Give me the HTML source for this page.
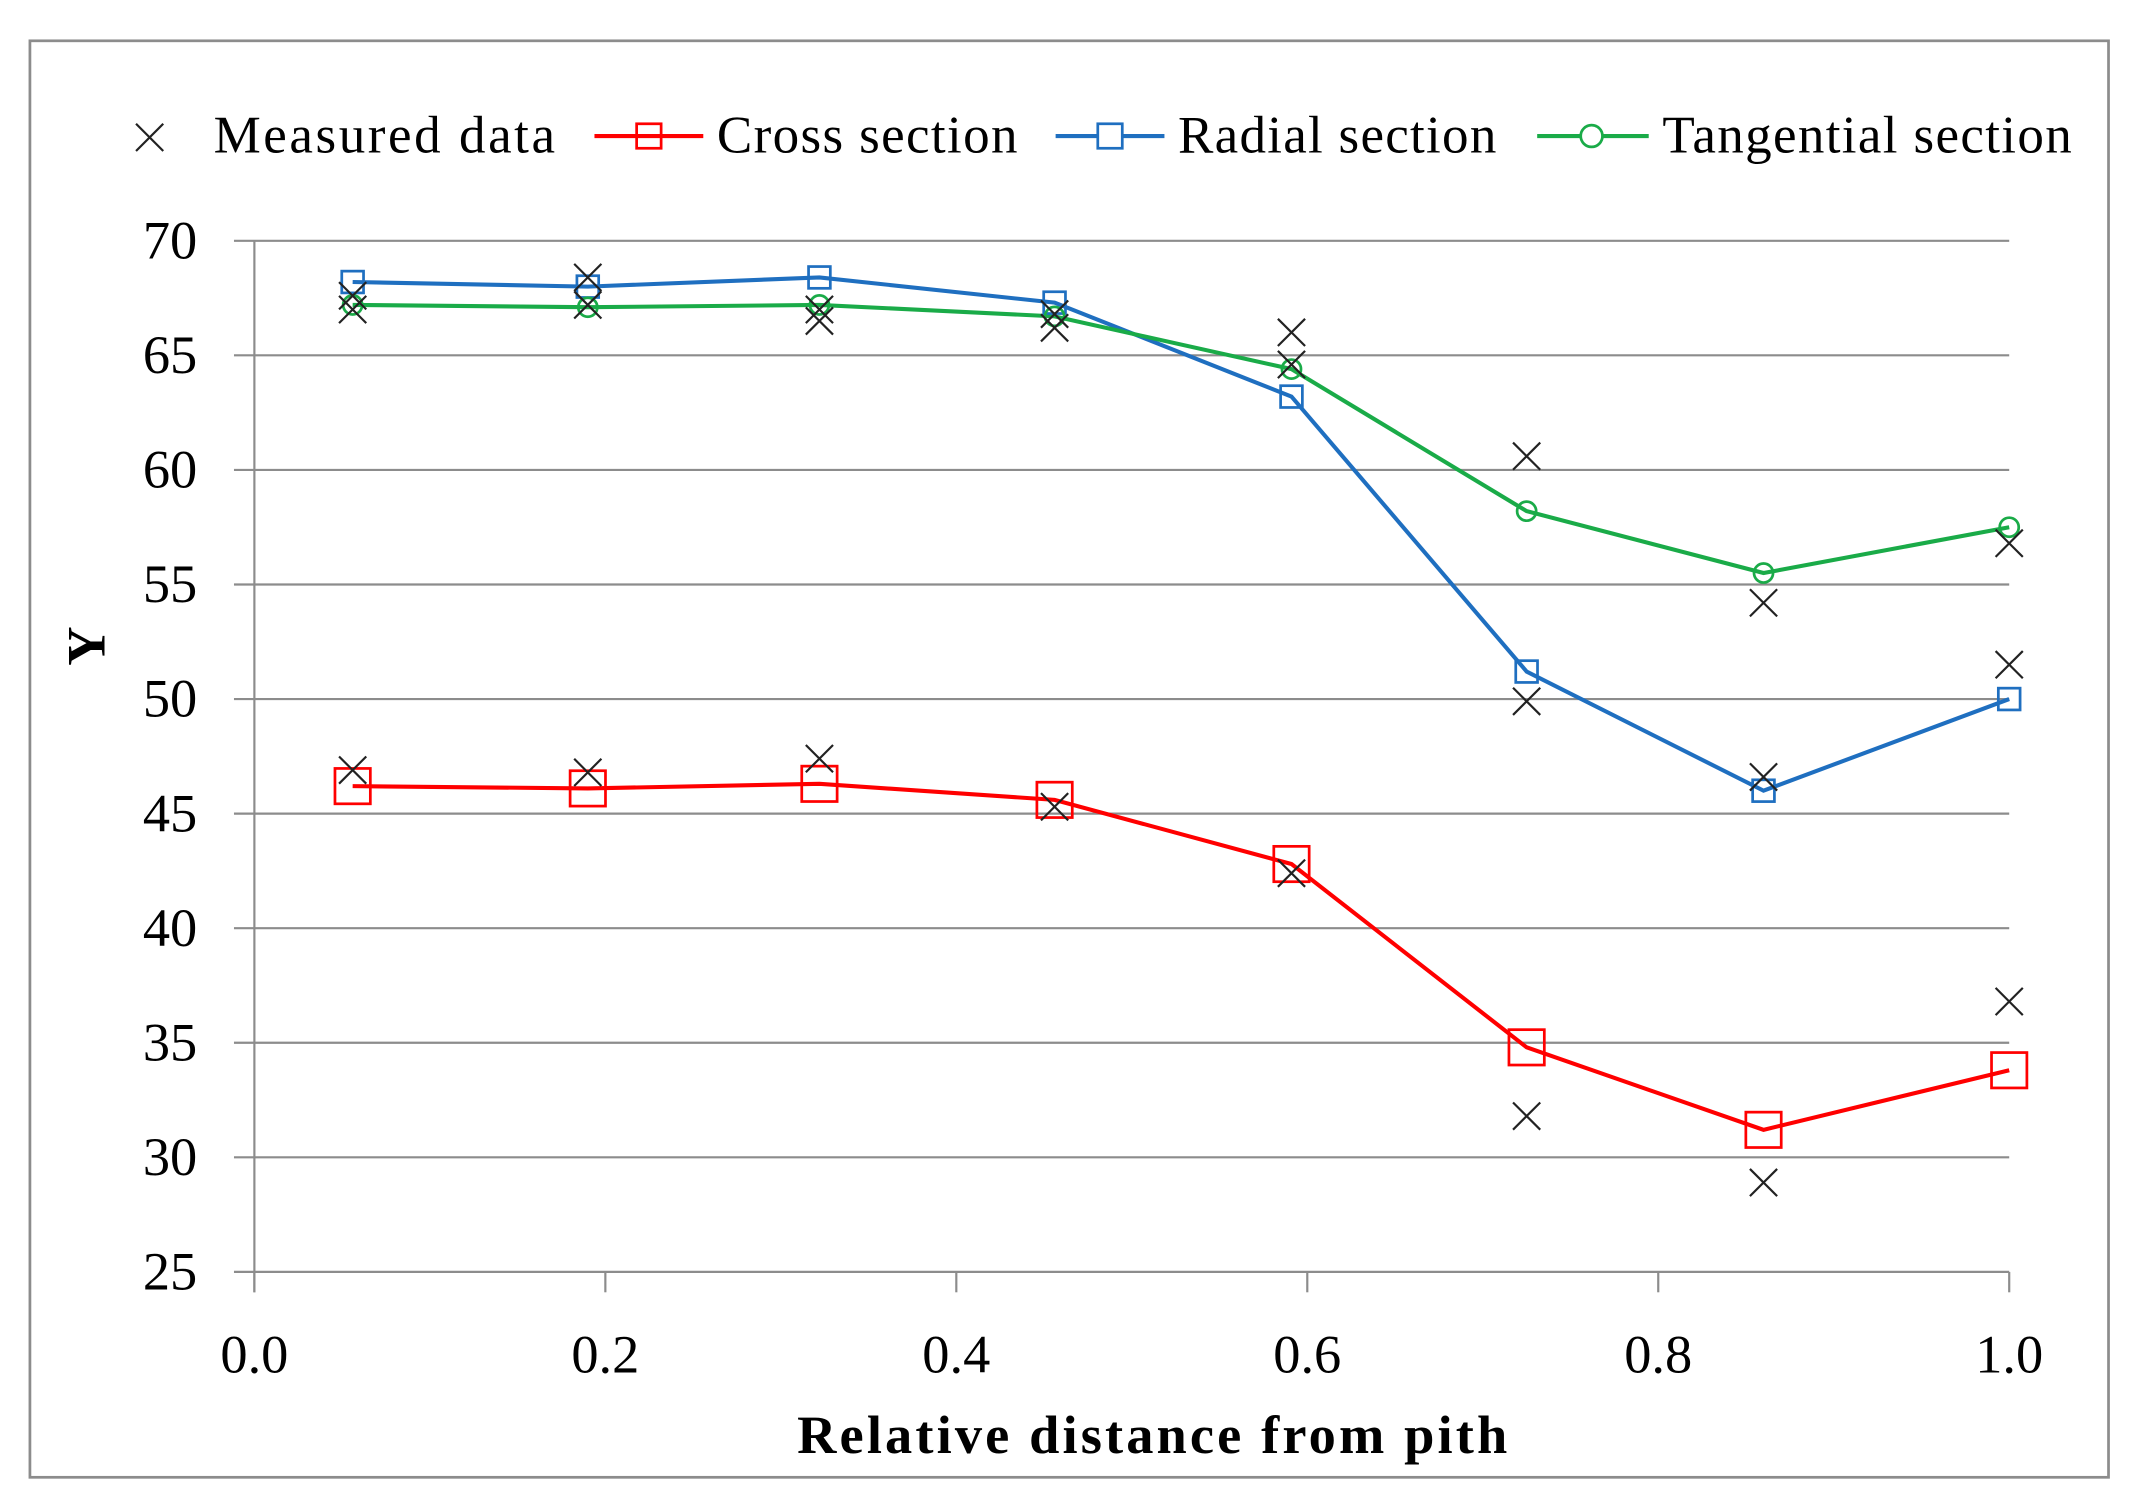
<!DOCTYPE html>
<html><head><meta charset="utf-8"><style>html,body{margin:0;padding:0;background:#fff}svg{display:block}</style></head>
<body>
<svg id="chart" width="2133" height="1509" viewBox="0 0 1568 1109.3" preserveAspectRatio="none" xmlns="http://www.w3.org/2000/svg" font-family="'Liberation Serif', serif">
<rect x="22" y="30" width="1528" height="1056" fill="#fff" stroke="#8c8c8c" stroke-width="2"/>
<g id="grid"></g><g id="axes"></g><g id="series"></g>
<g font-size="39">
  <g><path d="M100,91 L120,111 M100,111 L120,91" stroke="#222" stroke-width="1.6"/><text x="157" y="112" textLength="251">Measured data</text></g>
  <g><line x1="437" y1="100" x2="517" y2="100" stroke="#f00" stroke-width="3"/><rect x="468" y="91" width="18" height="18" fill="none" stroke="#f00" stroke-width="2"/><text x="527" y="112" textLength="221">Cross section</text></g>
  <g><line x1="776" y1="100" x2="856" y2="100" stroke="#1f6fc0" stroke-width="3"/><rect x="807" y="91" width="18" height="18" fill="#fff" stroke="#1f6fc0" stroke-width="2"/><text x="866" y="112" textLength="234">Radial section</text></g>
  <g><line x1="1130" y1="100" x2="1212" y2="100" stroke="#1aab48" stroke-width="3"/><circle cx="1170" cy="100" r="8" fill="#fff" stroke="#1aab48" stroke-width="2"/><text x="1222" y="112" textLength="301">Tangential section</text></g>
</g>
<text transform="translate(77,475) rotate(-90)" text-anchor="middle" font-size="40" font-weight="bold">Y</text>
<text x="847" y="1068" text-anchor="middle" font-size="40" font-weight="bold" textLength="522">Relative distance from pith</text>
<script>
const xVals=[0.056,0.190,0.322,0.456,0.591,0.725,0.860,1.0];
const crossVals=[46.2,46.1,46.3,45.6,42.8,34.8,31.2,33.8];
const radialVals=[68.2,68.0,68.4,67.3,63.2,51.2,46.0,50.0];
const tangVals=[67.2,67.1,67.2,66.7,64.4,58.2,55.5,57.5];
const measuredA=[67.6,68.4,66.5,66.2,66.0,60.6,54.2,56.8];
const measuredB=[67.0,67.2,67.0,66.8,64.6,49.9,46.6,51.5];
const measuredC=[46.9,46.8,47.4,45.3,42.4,31.8,28.9,36.8];
const yTicks=[25,30,35,40,45,50,55,60,65,70];
const xTicks=[0,0.2,0.4,0.6,0.8,1.0];
const xTickLabels=["0.0","0.2","0.4","0.6","0.8","1.0"];
const NS="http://www.w3.org/2000/svg";
const X=v=>187+v*1290, Y=v=>935-(v-25)*(758/45);
function mk(t,a,p){const e=document.createElementNS(NS,t);for(const k in a)e.setAttribute(k,a[k]);p.appendChild(e);return e;}
const grid=document.getElementById('grid'),axes=document.getElementById('axes'),ser=document.getElementById('series');
yTicks.forEach(v=>{
  const l=mk('line',{x1:172,x2:1477,y1:Y(v),y2:Y(v),stroke:'#8c8c8c','stroke-width':1.6},grid);
  
  
  const t=mk('text',{x:145,y:Y(v)+13,'text-anchor':'end','font-size':40},axes);t.textContent=v;
  
  
});
const ya=mk('line',{x1:187,x2:187,y1:Y(70),y2:950,stroke:'#8c8c8c','stroke-width':1.6},axes);


xTicks.forEach((v,i)=>{
  const l=mk('line',{x1:X(v),x2:X(v),y1:Y(25),y2:950,stroke:'#8c8c8c','stroke-width':1.6},axes);
  
  
  const t=mk('text',{x:X(v),y:1009,'text-anchor':'middle','font-size':40},axes);t.textContent=xTickLabels[i];
  
  
});
function line(vals,color,name){
  const p=mk('polyline',{points:vals.map((v,i)=>X(xVals[i])+','+Y(v)).join(' '),fill:'none',stroke:color,'stroke-width':3},ser);
  
  
}
line(crossVals,'#f00','cross-section-line');
line(radialVals,'#1f6fc0','radial-section-line');
line(tangVals,'#1aab48','tangential-section-line');
crossVals.forEach((v,i)=>{const r=mk('rect',{x:X(xVals[i])-13,y:Y(v)-13,width:26,height:26,fill:'none',stroke:'#f00','stroke-width':2},ser);
  
  });
radialVals.forEach((v,i)=>{const r=mk('rect',{x:X(xVals[i])-8,y:Y(v)-8,width:16,height:16,fill:'none',stroke:'#1f6fc0','stroke-width':2},ser);
  
  });
tangVals.forEach((v,i)=>{const c=mk('circle',{cx:X(xVals[i]),cy:Y(v),r:7,fill:'none',stroke:'#1aab48','stroke-width':2},ser);
  
  });
[measuredA,measuredB,measuredC].forEach(arr=>arr.forEach((v,i)=>{
  const x=X(xVals[i]),y=Y(v);
  const p=mk('path',{d:`M${x-10},${y-10}L${x+10},${y+10}M${x-10},${y+10}L${x+10},${y-10}`,stroke:'#222','stroke-width':1.6,fill:'none'},ser);
  
  
}));
</script>
</svg>
</body></html>
